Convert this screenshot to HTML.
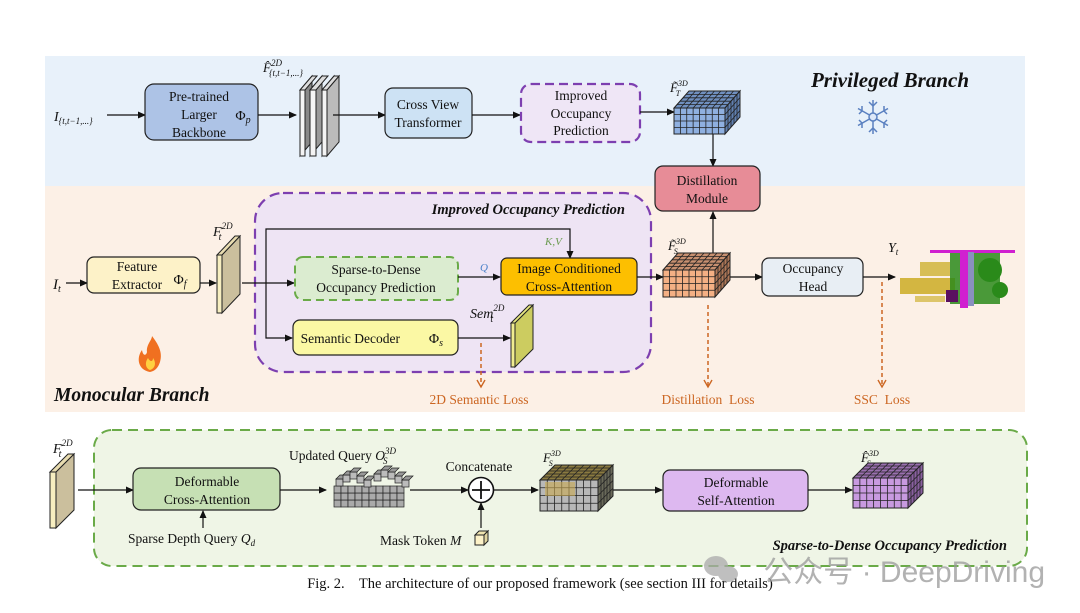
<!DOCTYPE html>
<html><head><meta charset="utf-8"><style>
html,body{margin:0;padding:0;background:#fff;width:1080px;height:613px;overflow:hidden}
svg{display:block}
text{font-family:"Liberation Serif",serif;fill:#111}
.b{font-size:13.5px}
.bi{font-weight:bold;font-style:italic}
.o{fill:#cc6622;font-size:13.5px}
</style></head><body>
<svg id="s" width="1080" height="613" viewBox="0 0 1080 613" xmlns="http://www.w3.org/2000/svg">
<defs>
<marker id="a" markerWidth="8" markerHeight="8" refX="7" refY="4" orient="auto" markerUnits="userSpaceOnUse"><path d="M0,0.5 L8,4 L0,7.5z" fill="#111"/></marker>
</defs>
<rect x="45" y="56" width="980" height="130" fill="#e8f1fa"/>
<rect x="45" y="186" width="980" height="226" fill="#fcf0e6"/>

<!-- top row -->
<text x="54" y="121" font-style="italic" font-size="14">I<tspan font-size="9" dy="3">{t,t−1,...}</tspan></text>
<line x1="107" y1="115" x2="145" y2="115" stroke="#111" stroke-width="1.2" marker-end="url(#a)"/>
<rect x="145" y="84" width="113" height="56" rx="9" fill="#adc3e6" stroke="#222" stroke-width="1.2"/>
<text class="b" x="199" y="101" text-anchor="middle">Pre-trained</text>
<text class="b" x="199" y="119" text-anchor="middle">Larger</text>
<text class="b" x="199" y="137" text-anchor="middle">Backbone</text>
<text x="243" y="120" font-size="14" text-anchor="middle">Φ<tspan font-size="10" dy="3" font-style="italic">p</tspan></text>
<line x1="258" y1="115" x2="296" y2="115" stroke="#111" stroke-width="1.2" marker-end="url(#a)"/>
<g stroke="#222" stroke-width="1">
<polygon points="312,76 300,90 300,156 312,142" fill="#888"/>
<polygon points="300,90 305,90 305,156 300,156" fill="#f4f4f4"/>
<polygon points="300,90 312,76 317,76 305,90" fill="#ddd"/>
<polygon points="322,76 310,90 310,156 322,142" fill="#999"/>
<polygon points="310,90 316,90 316,156 310,156" fill="#f4f4f4"/>
<polygon points="310,90 322,76 328,76 316,90" fill="#ddd"/>
<polygon points="334,76 322,90 322,156 334,142" fill="#c8c8c8"/>
<polygon points="322,90 327,90 327,156 322,156" fill="#f4f4f4"/>
<polygon points="327,90 339,76 339,142 327,156" fill="#bbb"/>
<polygon points="322,90 334,76 339,76 327,90" fill="#ddd"/>
</g>
<text x="263" y="72" font-style="italic" font-size="13">F̂<tspan font-size="9" dy="-6">2D</tspan><tspan font-size="9" dx="-13" dy="10">{t,t−1,...}</tspan></text>
<line x1="333" y1="115" x2="385" y2="115" stroke="#111" stroke-width="1.2" marker-end="url(#a)"/>
<rect x="385" y="88" width="87" height="50" rx="8" fill="#cde2f4" stroke="#222" stroke-width="1.2"/>
<text class="b" x="428" y="109" text-anchor="middle">Cross View</text>
<text class="b" x="428" y="127" text-anchor="middle">Transformer</text>
<line x1="472" y1="115" x2="520" y2="115" stroke="#111" stroke-width="1.2" marker-end="url(#a)"/>
<rect x="521" y="84" width="119" height="58" rx="10" fill="#efe6f6" stroke="#7d3fb0" stroke-width="2.2" stroke-dasharray="9,5"/>
<text class="b" x="581" y="100" text-anchor="middle">Improved</text>
<text class="b" x="581" y="118" text-anchor="middle">Occupancy</text>
<text class="b" x="581" y="135" text-anchor="middle">Prediction</text>
<line x1="640" y1="112" x2="674" y2="112" stroke="#111" stroke-width="1.2" marker-end="url(#a)"/>
<text x="670" y="92" font-style="italic" font-size="13">F̃<tspan font-size="8" dy="-6">3D</tspan><tspan font-size="8" dx="-12" dy="10">T</tspan></text>
<line x1="713" y1="134" x2="713" y2="166" stroke="#111" stroke-width="1.2" marker-end="url(#a)"/>
<rect x="655" y="166" width="105" height="45" rx="8" fill="#e78c97" stroke="#222" stroke-width="1.2"/>
<text class="b" x="707" y="185" text-anchor="middle">Distillation</text>
<text class="b" x="707" y="203" text-anchor="middle">Module</text>
<text x="890" y="87" class="bi" font-size="21" text-anchor="middle">Privileged Branch</text>
<g stroke="#5a80c0" stroke-width="1.5" fill="none" transform="translate(873,117)">
<line x1="0" y1="-17" x2="0" y2="17"/><line x1="-15" y1="-8.5" x2="15" y2="8.5"/><line x1="-15" y1="8.5" x2="15" y2="-8.5"/>
<polyline points="-4,-15 0,-11 4,-15"/><polyline points="-4,15 0,11 4,15"/>
<polyline points="-14,-3 -11,-6 -11,-11"/><polyline points="14,3 11,6 11,11"/>
<polyline points="14,-3 11,-6 11,-11"/><polyline points="-14,3 -11,6 -11,11"/>
<circle r="4" fill="#dde8f8"/>
</g>

<!-- monocular -->
<rect x="255" y="193" width="396" height="179" rx="28" fill="#eee4f4" stroke="#7d3fb0" stroke-width="2.2" stroke-dasharray="10,6"/>
<text x="625" y="214" class="bi" font-size="14.5" text-anchor="end">Improved Occupancy Prediction</text>
<text x="53" y="289" font-style="italic" font-size="15">I<tspan font-size="10" dy="3">t</tspan></text>
<line x1="66" y1="283" x2="87" y2="283" stroke="#111" stroke-width="1.2" marker-end="url(#a)"/>
<rect x="87" y="257" width="113" height="36" rx="7" fill="#fdf2c8" stroke="#222" stroke-width="1.2"/>
<text class="b" x="137" y="271" text-anchor="middle">Feature</text>
<text class="b" x="137" y="289" text-anchor="middle">Extractor</text>
<text x="180" y="284" font-size="14" text-anchor="middle">Φ<tspan font-size="10" dy="3" font-style="italic">f</tspan></text>
<line x1="200" y1="283" x2="216" y2="283" stroke="#111" stroke-width="1.2" marker-end="url(#a)"/>
<g stroke="#222" stroke-width="1">
<polygon points="217,255 222,255 222,313 217,313" fill="#f7eec0"/>
<polygon points="222,255 240,236 240,294 222,313" fill="#cbbf9d"/>
<polygon points="217,255 235,236 240,236 222,255" fill="#e8dcb0"/>
</g>
<text x="213" y="236" font-style="italic" font-size="14">F<tspan font-size="9" dy="-7">2D</tspan><tspan font-size="10" dx="-14" dy="11">t</tspan></text>
<polyline points="242,283 294,283" fill="none" stroke="#111" stroke-width="1.2" marker-end="url(#a)"/>
<polyline points="266,283 266,338 292,338" fill="none" stroke="#111" stroke-width="1.2" marker-end="url(#a)"/>
<polyline points="266,283 266,229 570,229 570,258" fill="none" stroke="#111" stroke-width="1.2" marker-end="url(#a)"/>
<text x="545" y="245" font-style="italic" font-size="11" style="fill:#6a9a50">K,V</text>
<rect x="295" y="257" width="163" height="43" rx="8" fill="#dbecd0" stroke="#6aaa48" stroke-width="2" stroke-dasharray="8,5"/>
<text class="b" x="376" y="274" text-anchor="middle">Sparse-to-Dense</text>
<text class="b" x="376" y="292" text-anchor="middle">Occupancy Prediction</text>
<line x1="458" y1="277" x2="500" y2="277" stroke="#111" stroke-width="1.2" marker-end="url(#a)"/>
<text x="480" y="271" font-style="italic" font-size="11" style="fill:#4a80c8">Q</text>
<rect x="501" y="258" width="136" height="37" rx="6" fill="#fdbf00" stroke="#222" stroke-width="1.2"/>
<text class="b" x="569" y="273" text-anchor="middle">Image Conditioned</text>
<text class="b" x="569" y="291" text-anchor="middle">Cross-Attention</text>
<line x1="637" y1="277" x2="663" y2="277" stroke="#111" stroke-width="1.2" marker-end="url(#a)"/>
<text x="668" y="250" font-style="italic" font-size="13">F̃<tspan font-size="8" dy="-6">3D</tspan><tspan font-size="8" dx="-12" dy="10">S</tspan></text>
<line x1="713" y1="253" x2="713" y2="212" stroke="#111" stroke-width="1.2" marker-end="url(#a)"/>
<line x1="730" y1="277" x2="762" y2="277" stroke="#111" stroke-width="1.2" marker-end="url(#a)"/>
<rect x="762" y="258" width="101" height="38" rx="7" fill="#e8eef4" stroke="#222" stroke-width="1.2"/>
<text class="b" x="813" y="273" text-anchor="middle">Occupancy</text>
<text class="b" x="813" y="291" text-anchor="middle">Head</text>
<line x1="863" y1="277" x2="895" y2="277" stroke="#111" stroke-width="1.2" marker-end="url(#a)"/>
<text x="888" y="252" font-style="italic" font-size="14">Y<tspan font-size="9" dy="3">t</tspan></text>
<g>
<rect x="900" y="278" width="55" height="16" fill="#c8a818" opacity="0.8"/>
<rect x="920" y="262" width="30" height="14" fill="#c8a818" opacity="0.7"/>
<rect x="915" y="296" width="30" height="6" fill="#c8a818" opacity="0.6"/>
<rect x="950" y="252" width="50" height="52" fill="#2a8a1a" opacity="0.85"/>
<circle cx="990" cy="270" r="12" fill="#2a8a1a"/><circle cx="1000" cy="290" r="8" fill="#2a8a1a"/>
<rect x="960" y="250" width="8" height="58" fill="#d020d0"/>
<rect x="930" y="250" width="85" height="3" fill="#d020d0"/>
<rect x="968" y="252" width="6" height="54" fill="#8a90c0"/>
<rect x="946" y="290" width="12" height="12" fill="#5a1060"/>
</g>
<rect x="293" y="320" width="165" height="35" rx="7" fill="#fbf8a4" stroke="#222" stroke-width="1.2"/>
<text class="b" x="400" y="343" text-anchor="end">Semantic Decoder</text>
<text x="436" y="343" font-size="14" text-anchor="middle">Φ<tspan font-size="10" dy="3" font-style="italic">s</tspan></text>
<line x1="458" y1="338" x2="510" y2="338" stroke="#111" stroke-width="1.2" marker-end="url(#a)"/>
<g stroke="#222" stroke-width="1">
<polygon points="511,323 515,323 515,367 511,367" fill="#f0ec90"/>
<polygon points="515,323 533,305 533,349 515,367" fill="#cccc60"/>
<polygon points="511,323 529,305 533,305 515,323" fill="#e8e880"/>
</g>
<text x="470" y="318" font-style="italic" font-size="14">Sem<tspan font-size="9" dy="-7">2D</tspan><tspan font-size="10" dx="-14" dy="11">t</tspan></text>
<g stroke="#cc6622" stroke-width="1.5" stroke-dasharray="4,3" fill="none">
<line x1="481" y1="343" x2="481" y2="386"/>
<line x1="708" y1="305" x2="708" y2="386"/>
<line x1="882" y1="282" x2="882" y2="386"/>
</g>
<g stroke="#cc6622" stroke-width="1.4" fill="none">
<polyline points="477,380 481,387 485,380"/><polyline points="704,380 708,387 712,380"/><polyline points="878,380 882,387 886,380"/>
</g>
<text class="o" x="479" y="404" text-anchor="middle">2D Semantic Loss</text>
<text class="o" x="708" y="404" text-anchor="middle">Distillation&#160; Loss</text>
<text class="o" x="882" y="404" text-anchor="middle">SSC&#160; Loss</text>
<path d="M150,372 C138,370 136,358 142,350 C143,356 146,356 147,352 C146,345 152,340 152,336 C158,344 163,352 160,362 C158,368 155,371 150,372z" fill="#f07020"/>
<path d="M150,370 C145,368 145,362 148,358 C150,362 153,362 153,358 C156,362 156,368 150,370z" fill="#ffd040"/>
<text x="54" y="401" class="bi" font-size="19.5">Monocular Branch</text>

<!-- bottom -->
<rect x="94" y="430" width="933" height="136" rx="18" fill="#eff5e6" stroke="#6aaa48" stroke-width="2" stroke-dasharray="10,6"/>
<g stroke="#222" stroke-width="1">
<polygon points="50,472 56,472 56,528 50,528" fill="#f7eec0"/>
<polygon points="56,472 74,454 74,510 56,528" fill="#cbbf9d"/>
<polygon points="50,472 68,454 74,454 56,472" fill="#e8dcb0"/>
</g>
<text x="53" y="453" font-style="italic" font-size="14">F<tspan font-size="9" dy="-7">2D</tspan><tspan font-size="10" dx="-14" dy="11">t</tspan></text>
<line x1="78" y1="490" x2="133" y2="490" stroke="#111" stroke-width="1.2" marker-end="url(#a)"/>
<rect x="133" y="468" width="147" height="42" rx="8" fill="#c6e0b4" stroke="#222" stroke-width="1.2"/>
<text class="b" x="207" y="486" text-anchor="middle">Deformable</text>
<text class="b" x="207" y="504" text-anchor="middle">Cross-Attention</text>
<line x1="203" y1="528" x2="203" y2="511" stroke="#111" stroke-width="1.2" marker-end="url(#a)"/>
<text class="b" x="128" y="543">Sparse Depth Query <tspan font-style="italic">Q</tspan><tspan font-style="italic" font-size="9" dy="3">d</tspan></text>
<line x1="280" y1="490" x2="326" y2="490" stroke="#111" stroke-width="1.2" marker-end="url(#a)"/>
<text class="b" x="289" y="460">Updated Query <tspan font-style="italic">O</tspan><tspan font-style="italic" font-size="9" dy="-6">3D</tspan><tspan font-style="italic" font-size="9" dx="-13" dy="10">S</tspan></text>
<g id="blocks"></g>
<line x1="410" y1="490" x2="468" y2="490" stroke="#111" stroke-width="1.2" marker-end="url(#a)"/>
<text class="b" x="479" y="471" text-anchor="middle">Concatenate</text>
<circle cx="481" cy="490" r="12.5" fill="#fff" stroke="#111" stroke-width="1.6"/>
<line x1="472" y1="490" x2="490" y2="490" stroke="#111" stroke-width="1.8"/><line x1="481" y1="481" x2="481" y2="499" stroke="#111" stroke-width="1.8"/>
<line x1="481" y1="528" x2="481" y2="503" stroke="#111" stroke-width="1.2" marker-end="url(#a)"/>
<text class="b" x="380" y="545">Mask Token <tspan font-style="italic">M</tspan></text>
<g stroke="#222" stroke-width="1"><rect x="475" y="535" width="9" height="10" fill="#fdf2c8"/><polygon points="475,535 479,531 488,531 484,535" fill="#f0e4b0"/><polygon points="484,535 488,531 488,541 484,545" fill="#e0d4a0"/></g>
<line x1="494" y1="490" x2="538" y2="490" stroke="#111" stroke-width="1.2" marker-end="url(#a)"/>
<text x="543" y="462" font-style="italic" font-size="13">F<tspan font-size="8" dy="-6">3D</tspan><tspan font-size="8" dx="-12" dy="10">S</tspan></text>
<line x1="612" y1="490" x2="662" y2="490" stroke="#111" stroke-width="1.2" marker-end="url(#a)"/>
<rect x="663" y="470" width="145" height="41" rx="7" fill="#ddb8f0" stroke="#222" stroke-width="1.2"/>
<text class="b" x="736" y="487" text-anchor="middle">Deformable</text>
<text class="b" x="736" y="505" text-anchor="middle">Self-Attention</text>
<line x1="808" y1="490" x2="852" y2="490" stroke="#111" stroke-width="1.2" marker-end="url(#a)"/>
<text x="861" y="462" font-style="italic" font-size="13">F̂<tspan font-size="8" dy="-6">3D</tspan><tspan font-size="8" dx="-12" dy="10">S</tspan></text>
<text x="1007" y="550" class="bi" font-size="14.5" text-anchor="end">Sparse-to-Dense Occupancy Prediction</text>
<text x="540" y="588" font-size="14.5" text-anchor="middle">Fig. 2.&#160;&#160;&#160; The architecture of our proposed framework (see section III for details)</text>
<g fill="#aaa" opacity="0.75"><ellipse cx="716" cy="566" rx="12" ry="10"/><ellipse cx="728" cy="574" rx="10" ry="8"/></g>
<text x="1045" y="582" text-anchor="end" font-size="30" style="fill:#999;opacity:0.75;font-family:'Liberation Sans','Noto Sans CJK SC',sans-serif">公众号 · DeepDriving</text>
<g id="cubes"></g>
</svg>
<script>
var NS="http://www.w3.org/2000/svg",C=document.getElementById('cubes');
function el(t,a,p){var e=document.createElementNS(NS,t);for(var k in a)e.setAttribute(k,a[k]);(p||C).appendChild(e);return e}
function cube(x,y,w,h,dx,dy,nx,ny,nz,front,top,side){
 el('rect',{x:x,y:y,width:w,height:h,fill:front,stroke:'#222','stroke-width':1});
 el('polygon',{points:[x,y,x+dx,y-dy,x+w+dx,y-dy,x+w,y].join(','),fill:top,stroke:'#222','stroke-width':1});
 el('polygon',{points:[x+w,y,x+w+dx,y-dy,x+w+dx,y+h-dy,x+w,y+h].join(','),fill:side,stroke:'#222','stroke-width':1});
 var i,s={stroke:'#222','stroke-width':0.8};
 for(i=1;i<nx;i++){var X=x+w*i/nx;el('line',Object.assign({x1:X,y1:y,x2:X,y2:y+h},s));el('line',Object.assign({x1:X,y1:y,x2:X+dx,y2:y-dy},s));}
 for(i=1;i<ny;i++){var Y=y+h*i/ny;el('line',Object.assign({x1:x,y1:Y,x2:x+w,y2:Y},s));el('line',Object.assign({x1:x+w,y1:Y,x2:x+w+dx,y2:Y-dy},s));}
 for(i=1;i<nz;i++){var f=i/nz;el('line',Object.assign({x1:x+dx*f,y1:y-dy*f,x2:x+w+dx*f,y2:y-dy*f},s));el('line',Object.assign({x1:x+w+dx*f,y1:y-dy*f,x2:x+w+dx*f,y2:y+h-dy*f},s));}
}
cube(674,108,51,26,15,17,8,4,5,'#8fb0e0','#7090c0','#6080b0');
cube(663,270,52,27,15,17,8,4,5,'#f4b084','#c89070','#b07858');
cube(540,480,58,31,15,15,8,4,5,'#b8b8b8','#8a7a40','#6a6a5a');
el('rect',{x:545,y:482,width:30,height:14,fill:'#c8a850',opacity:0.6});
cube(853,478,55,30,15,15,8,4,5,'#c89ae0','#9a70b0','#8a60a0');
var B=document.getElementById('blocks');
for(var r=0;r<3;r++)for(var c=0;c<10;c++){var xx=334+c*7,yy=500-r*7;
 el('rect',{x:xx,y:yy,width:7,height:7,fill:'#aaa',stroke:'#222','stroke-width':0.7},B);}
var pos=[[336,479],[343,475],[350,472],[357,476],[364,480],[374,474],[381,470],[388,472],[395,476],[402,480]];
for(var k=0;k<pos.length;k++){el('rect',{x:pos[k][0],y:pos[k][1],width:7,height:7,fill:'#bbb',stroke:'#222','stroke-width':0.7},B);
 el('polygon',{points:[pos[k][0],pos[k][1],pos[k][0]+4,pos[k][1]-4,pos[k][0]+11,pos[k][1]-4,pos[k][0]+7,pos[k][1]].join(','),fill:'#999',stroke:'#222','stroke-width':0.7},B);}
</script>
</body></html>
